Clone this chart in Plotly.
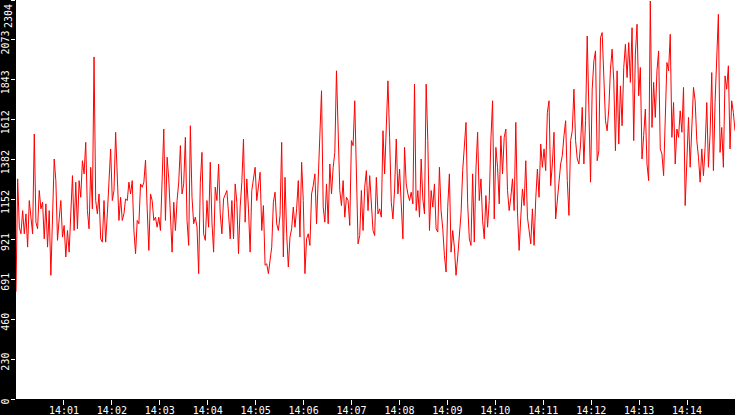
import plotly.graph_objects as go
import pandas as pd

# rate samples, one list per ~2 minute stretch
part1 = [620, 1271, 992, 954, 1088, 954, 1069, 877, 1146, 1031, 954, 1530, 1021, 983, 1204, 1098,
         1136, 925, 1127, 877, 1088, 714, 1031, 1386, 1261, 916, 1040, 1146, 935, 1002, 820, 973,
         848, 1108, 1290, 973, 1252, 983, 1261, 1165, 1376, 1300, 1482, 1088, 983, 1338, 1098, 1975,
         1146, 1069, 1184, 925, 906, 1146, 906, 1069, 1271, 1444, 1146, 1204, 1540, 1242]
part2 = [1031, 1165, 1031, 1069, 1156, 1146, 1252, 1184, 1261, 973, 839, 1031, 1012, 1242, 1223, 1252,
         1380, 1098, 858, 1184, 1146, 1031, 1050, 992, 1050, 973, 1300, 1559, 1031, 1396, 1271, 1098,
         848, 1136, 973, 1146, 1252, 1463, 1184, 1242, 1511, 1031, 887, 1578, 1165, 1012, 1050, 992,
         724, 1252, 1424, 954, 916, 1146, 992, 1367, 1021, 848, 1223, 1146, 1357, 1069]
part3 = [954, 1156, 1184, 1204, 1069, 925, 1146, 925, 1242, 1136, 839, 1108, 1252, 1501, 1021, 1271,
         1098, 848, 1204, 1280, 1338, 1146, 1242, 1309, 973, 1117, 772, 781, 724, 791, 877, 1136,
         1194, 1012, 973, 1060, 1482, 820, 1280, 954, 762, 935, 983, 1108, 992, 1098, 1261, 935,
         1367, 1146, 724, 925, 954, 887, 1184, 1232, 1300, 1012, 1300, 1559, 1780, 1108]
part4 = [1021, 1242, 1012, 1357, 1184, 1338, 1424, 1895, 1511, 1204, 1117, 1261, 1050, 1165, 1146, 1002,
         1492, 1463, 1722, 1232, 896, 944, 1204, 973, 1223, 1319, 1088, 1290, 1127, 973, 944, 1280,
         1069, 1098, 1050, 1549, 1300, 1636, 1837, 1511, 1136, 1040, 1213, 1501, 1184, 1328, 1136, 925,
         1453, 1242, 1184, 1146, 1194, 1127, 1818, 1088, 1204, 1050, 1386, 1156, 1069, 1818]
part5 = [1492, 973, 1204, 1108, 1242, 983, 964, 1338, 1088, 983, 829, 733, 1108, 1300, 848, 973,
         877, 714, 820, 954, 1069, 1319, 1444, 1597, 1127, 925, 887, 1300, 906, 1328, 1540, 1146,
         1271, 1031, 925, 1175, 992, 1146, 1501, 1722, 1040, 1453, 1338, 1127, 1520, 1300, 1511, 1559,
         1204, 1088, 1165, 1271, 1088, 1597, 1079, 858, 1050, 1213, 1117, 1376, 1050, 983]
part6 = [896, 1098, 887, 1156, 1328, 1165, 1472, 1338, 1444, 1319, 1655, 1722, 1232, 1357, 1540, 1040,
         1127, 1252, 1357, 1405, 1520, 1607, 1261, 1060, 1492, 1549, 1789, 1492, 1386, 1357, 1472, 1684,
         1357, 1607, 2096, 1626, 1252, 1789, 1952, 2010, 1376, 1434, 2087, 2116, 1885, 1607, 1549, 1674,
         1904, 2020, 1837, 1434, 1895, 1472, 1808, 1578, 1914, 2048, 1856, 2058, 1828, 2144]
part7 = [1492, 1991, 2164, 1751, 1914, 1386, 1520, 1674, 1357, 1261, 2298, 1568, 1828, 1626, 1895, 2010,
         1444, 1415, 1290, 1693, 1943, 1895, 2106, 1511, 1712, 1357, 1559, 1511, 1664, 1540, 1799, 1117,
         1357, 1626, 1338, 1616, 1799, 1722, 1492, 1396, 1252, 1444, 1290, 1453, 1712, 1338, 1530, 1885,
         1319, 1712, 1991, 2221, 1424, 1568, 1338, 1866, 1789, 1924, 1444, 1722, 1655, 1549]

values = part1 + part2 + part3 + part4 + part5 + part6 + part7
times = pd.date_range("2024-01-01 14:00:00", "2024-01-01 14:15:00", periods=len(values))

y_ticks = [0, 230.4, 460.8, 691.2, 921.6, 1152, 1382.4, 1612.8, 1843.2, 2073.6, 2304]
y_labels = [str(int(v)) for v in y_ticks]
x_ticks = pd.date_range("2024-01-01 14:01:00", "2024-01-01 14:14:00", freq="1min")
x_labels = [t.strftime("%H:%M") for t in x_ticks]

fig = go.Figure()
fig.add_trace(go.Scatter(x=times, y=values, mode="lines",
                         line=dict(color="#ff0000", width=1), showlegend=False))

font = dict(family="DejaVu Sans Mono", size=10, color="white")
fig.update_layout(
    width=735, height=415,
    margin=dict(l=16, r=0, t=0, b=16),
    paper_bgcolor="black",
    plot_bgcolor="white",
    font=font,
)
fig.update_xaxes(
    range=["2024-01-01 14:00:00", "2024-01-01 14:15:00"],
    tickvals=x_ticks, ticktext=x_labels,
    ticks="outside", ticklen=5, tickcolor="white", tickwidth=1,
    ticklabelstandoff=-3,
    showgrid=False, zeroline=False, showline=False, automargin=False,
    tickfont=font,
)
# top label would be clipped at the edge, so it is drawn as an annotation instead
fig.update_yaxes(
    range=[0, 2304],
    tickvals=y_ticks, ticktext=y_labels[:-1] + [""], tickangle=-90,
    ticks="outside", ticklen=4, tickcolor="white", tickwidth=1,
    ticklabelshift=4, ticklabelstandoff=-2,
    showgrid=False, zeroline=False, showline=False, automargin=False,
    tickfont=font,
)
fig.add_annotation(text=y_labels[-1], xref="paper", yref="paper", x=0, y=1,
                   xanchor="center", yanchor="top", xshift=-8, yshift=-2,
                   textangle=-90, showarrow=False, font=font)

# drop the browser's default page margin so the figure fills the window
fig.write_html("out.html", config={"displayModeBar": False},
               post_script="document.body.style.margin='0';document.body.style.background='black';")
